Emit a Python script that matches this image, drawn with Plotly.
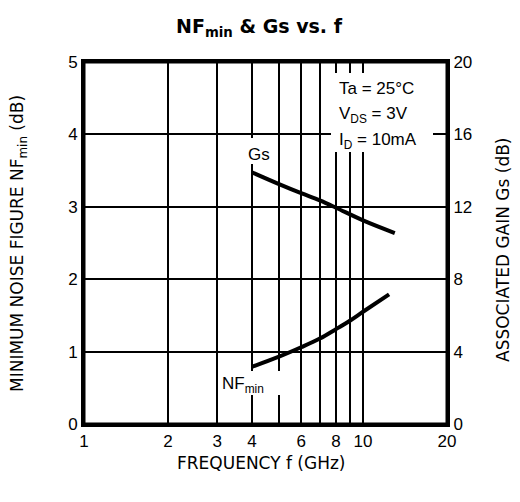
import plotly.graph_objects as go
import math

# ---- data ----
freq_ticks = [1, 2, 3, 4, 5, 6, 7, 8, 9, 10, 20]
freq_labels = ["1", "2", "3", "4", "", "6", "", "8", "", "10", "20"]
nf_ticks = [0, 1, 2, 3, 4, 5]
gs_ticks = [0, 4, 8, 12, 16, 20]

gs_f = [4, 5, 6, 7, 8, 10, 13]
gs_db = [13.9, 13.25, 12.75, 12.35, 11.95, 11.25, 10.55]

nf_f = [4, 5, 6, 7, 8, 9, 10, 12.4]
nf_db = [0.79, 0.93, 1.06, 1.18, 1.31, 1.43, 1.55, 1.79]

# ---- layout constants (page pixels) ----
W, H = 520, 502
OFF = 8  # page body margin (on every side)
FW, FH = W - 2 * OFF, H - 2 * OFF  # figure size that fits without scrollbars
L, R, T, B = 84, 447, 62, 424
FONT = "Liberation Sans"
WIDE = "DejaVu Sans"


def px(x):
    return (x - L) / (R - L)


def py(y):
    return (B - y) / (B - T)


fig = go.Figure()
fig.add_trace(go.Scatter(x=gs_f, y=gs_db, mode="lines", yaxis="y2",
                         line=dict(color="black", width=4, shape="spline"),
                         showlegend=False, hoverinfo="skip"))
fig.add_trace(go.Scatter(x=nf_f, y=nf_db, mode="lines",
                         line=dict(color="black", width=4, shape="spline"),
                         showlegend=False, hoverinfo="skip"))

# white gaps in the grid behind labels
gaps = [
    (331, 73, 433, 152),   # condition box
    (246, 138, 257, 164),  # Gs label
    (246, 371, 284, 395),  # NFmin label
]
shapes = []
for x0, y0, x1, y1 in gaps:
    shapes.append(dict(type="rect", xref="paper", yref="paper",
                       x0=px(x0), x1=px(x1), y0=py(y1), y1=py(y0),
                       fillcolor="white", line=dict(width=0), layer="above"))
shapes.append(dict(type="rect", xref="paper", yref="paper", x0=0, x1=1, y0=0, y1=1,
                   line=dict(color="black", width=3), layer="above"))

ann = []
def A(text, x, y, size=17, family=FONT, xanchor="center", **kw):
    ann.append(dict(text=text, xref="paper", yref="paper", x=px(x), y=py(y),
                    showarrow=False, xanchor=xanchor, yanchor="middle",
                    font=dict(family=family, size=size, color="black"), **kw))

A("Ta = 25°C", 337, 88, xanchor="left")
A("V<sub>DS</sub> = 3V", 337, 115, xanchor="left")
A("I<sub>D</sub> = 10mA", 337, 141, xanchor="left")
A("Gs", 259, 154)
A("NF<sub>min</sub>", 243, 385)
A("FREQUENCY f (GHz)", 261, 463, family=WIDE)
A("MINIMUM NOISE FIGURE NF<sub>min</sub> (dB)", 19, 244, family=WIDE, textangle=-90)
A("ASSOCIATED GAIN Gs (dB)", 503, 250, family=WIDE, textangle=-90)

tf = dict(family=FONT, size=17, color="black")
fig.update_layout(
    width=FW, height=FH,
    margin=dict(l=L - OFF, r=FW - (R - OFF), t=T - OFF, b=FH - (B - OFF)),
    paper_bgcolor="white", plot_bgcolor="white",
    title=dict(text="<b>NF<sub>min</sub> & Gs vs. f</b>", x=(259 - OFF) / FW,
               xref="container", xanchor="center",
               y=1 - (26 - OFF) / FH, yref="container", yanchor="middle",
               font=dict(family=WIDE, size=19, color="black")),
    xaxis=dict(type="log", range=[0, math.log10(20)], tickvals=freq_ticks,
               ticktext=freq_labels, showgrid=True, gridcolor="black", gridwidth=2,
               showline=True, linecolor="black", linewidth=3, mirror=True,
               ticks="", zeroline=False, tickfont=tf),
    yaxis=dict(range=[0, 5], tickvals=nf_ticks, showgrid=True, gridcolor="black",
               gridwidth=1.5, showline=True, linecolor="black", linewidth=3,
               ticks="", zeroline=False, tickfont=tf),
    yaxis2=dict(range=[0, 20], tickvals=gs_ticks, overlaying="y", side="right",
                showgrid=False, showline=True, linecolor="black", linewidth=3,
                ticks="", zeroline=False, tickfont=tf),
    shapes=shapes,
    annotations=ann,
)

fig.write_html("out.html")
